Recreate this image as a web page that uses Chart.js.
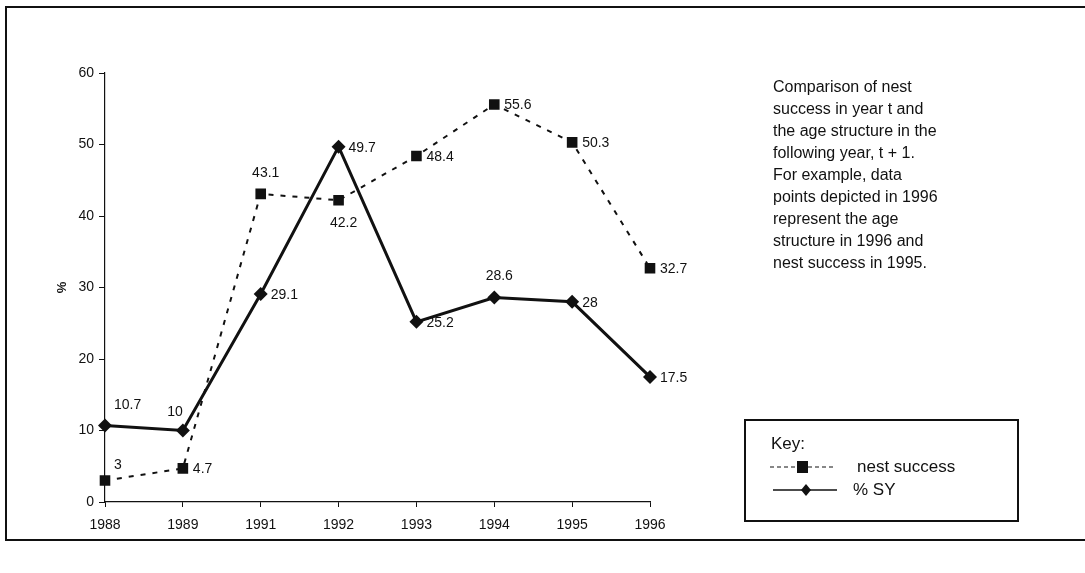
<!DOCTYPE html>
<html>
<head>
<meta charset="utf-8">
<script src="https://cdn.jsdelivr.net/npm/chart.js@4.4.0/dist/chart.umd.min.js"></script>
<style>
  body { margin: 0; background: #fff; }
  #wrap { position: relative; width: 1085px; height: 573px; }
  #frame { position: absolute; left: 5px; top: 6px; width: 1090px; height: 531px;
    border-left: 2px solid #111; border-top: 2px solid #111; border-bottom: 2px solid #111; }
  #note { position: absolute; left: 773px; top: 76px; font-family: "Liberation Sans", Arial, sans-serif;
    font-size: 16px; line-height: 22px; color: #111; }
  canvas { position: absolute; left: 0; top: 0; }
</style>
</head>
<body>
<div id="wrap">
  <div id="frame"></div>
  <canvas id="chart" width="1085" height="573"></canvas>
  <div id="note">Comparison of nest<br>success in year t and<br>the age structure in the<br>following year, t + 1.<br>For example, data<br>points depicted in 1996<br>represent the age<br>structure in 1996 and<br>nest success in 1995.</div>
</div>
<script>
// nest success vs age structure (% SY)

const years = ['1988', '1989', '1991', '1992', '1993', '1994', '1995', '1996'];
const nestSuccess = [3, 4.7, 43.1, 42.2, 48.4, 55.6, 50.3, 32.7];
const pctSY = [10.7, 10, 29.1, 49.7, 25.2, 28.6, 28, 17.5];
const yTicks = [0, 10, 20, 30, 40, 50, 60];

// where each value label sits relative to its point
const nestLabelPos = ['ne', 'e', 'n', 's', 'e', 'e', 'e', 'e'];
const syLabelPos = ['ne', 'nw', 'e', 'e', 'e', 'n', 'e', 'e'];

const FONT = '"Liberation Sans", Arial, sans-serif';

// draws the number next to each point
const valueLabels = {
  id: 'valueLabels',
  afterDatasetsDraw(chart) {
    const ctx = chart.ctx;
    const spots = [nestLabelPos, syLabelPos];
    ctx.save();
    ctx.font = '14px ' + FONT;
    ctx.fillStyle = '#111';
    chart.data.datasets.forEach((ds, i) => {
      chart.getDatasetMeta(i).data.forEach((pt, j) => {
        const txt = String(ds.data[j]);
        const pos = spots[i][j];
        let x = pt.x, y = pt.y;
        ctx.textBaseline = 'middle';
        if (pos === 'e') { ctx.textAlign = 'left'; x += 10; y += 1; }
        else if (pos === 'n') { ctx.textAlign = 'center'; x += 5; y -= 21; }
        else if (pos === 's') { ctx.textAlign = 'center'; x += 5; y += 23; }
        else if (pos === 'ne') { ctx.textAlign = 'left'; x += 9; y -= (i === 0 ? 15 : 20); }
        else if (pos === 'nw') { ctx.textAlign = 'right'; y -= 18; }
        ctx.fillText(txt, x, y);
      });
    });
    ctx.restore();
  }
};

// the "Key:" box at the lower right
const keyBox = {
  id: 'keyBox',
  afterDraw(chart) {
    const ctx = chart.ctx;
    ctx.save();
    ctx.strokeStyle = '#111';
    ctx.lineWidth = 2;
    ctx.strokeRect(745, 420, 273, 101);
    ctx.fillStyle = '#111';
    ctx.font = '17px ' + FONT;
    ctx.textBaseline = 'middle';
    ctx.fillText('Key:', 771, 444);
    ctx.fillText('nest success', 857, 467);
    ctx.fillText('% SY', 853, 490);
    // dashed sample
    ctx.lineWidth = 1.2;
    ctx.setLineDash([4, 3]);
    ctx.beginPath();
    ctx.moveTo(770, 467); ctx.lineTo(797, 467);
    ctx.moveTo(808, 467); ctx.lineTo(835, 467);
    ctx.stroke();
    ctx.setLineDash([]);
    ctx.fillRect(797, 461, 11, 12);
    // solid sample
    ctx.lineWidth = 1.5;
    ctx.beginPath();
    ctx.moveTo(773, 490); ctx.lineTo(837, 490);
    ctx.stroke();
    ctx.beginPath();
    ctx.moveTo(806, 484); ctx.lineTo(811, 490); ctx.lineTo(806, 496); ctx.lineTo(801, 490);
    ctx.closePath();
    ctx.fill();
    ctx.restore();
  }
};

const ctx = document.getElementById('chart').getContext('2d');
new Chart(ctx, {
  type: 'line',
  data: {
    labels: years,
    datasets: [
      { label: 'nest success', data: nestSuccess, borderColor: '#111', backgroundColor: '#111',
        borderWidth: 2, borderDash: [5, 7], pointStyle: 'rect', pointRadius: 7.5,
        pointBorderWidth: 0, tension: 0 },
      { label: '% SY', data: pctSY, borderColor: '#111', backgroundColor: '#111',
        borderWidth: 3, pointStyle: 'rectRot', pointRadius: 7, pointBorderWidth: 0, tension: 0 }
    ]
  },
  options: {
    responsive: false,
    animation: false,
    layout: { padding: { left: 45, top: 73, right: 435, bottom: 36 } },
    plugins: { legend: { display: false }, tooltip: { enabled: false } },
    scales: {
      x: {
        type: 'category', offset: false,
        grid: { drawOnChartArea: false, drawTicks: true, tickLength: 5, color: '#111', offset: false },
        border: { display: true, color: '#111', width: 1.2 },
        ticks: { color: '#111', font: { family: FONT, size: 14 }, padding: 10, maxRotation: 0, autoSkip: false },
        afterFit(s) { s.height = 35; }
      },
      y: {
        min: 0, max: 60,
        afterBuildTicks(s) { s.ticks = yTicks.map(v => ({ value: v })); },
        grid: { drawOnChartArea: false, drawTicks: true, tickLength: 6, color: '#111' },
        border: { display: true, color: '#111', width: 1.2 },
        ticks: { color: '#111', font: { family: FONT, size: 14 }, padding: 5 },
        title: { display: true, text: '%', color: '#111', font: { family: FONT, size: 13, weight: 'bold' }, padding: { top: 10, bottom: 4 } },
        afterFit(s) { s.width = 60; }
      }
    }
  },
  plugins: [valueLabels, keyBox]
});
</script>
</body>
</html>
